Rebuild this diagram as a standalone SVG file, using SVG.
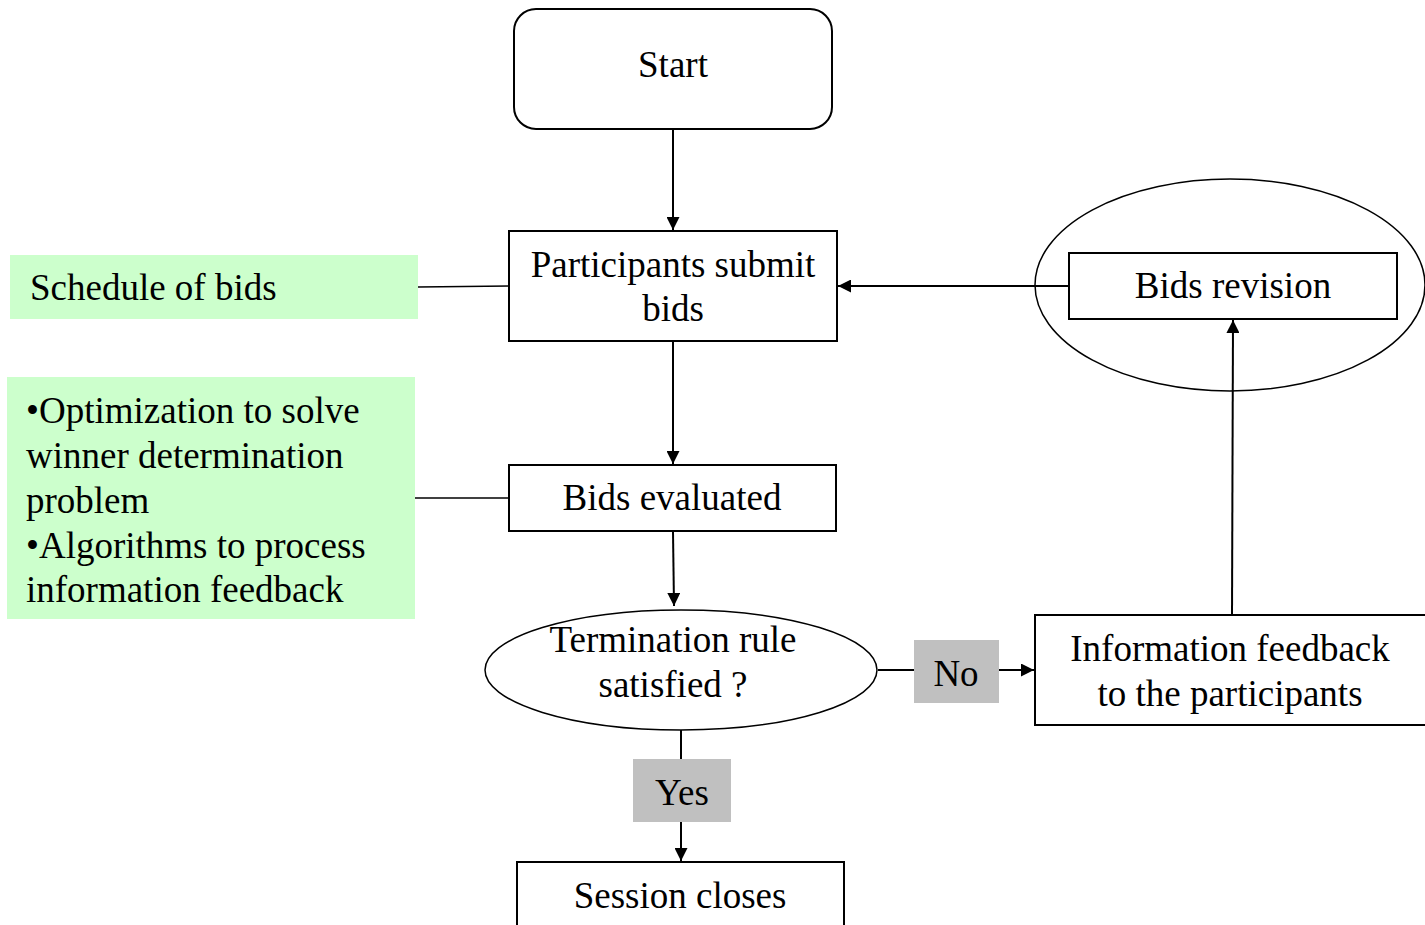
<svg xmlns="http://www.w3.org/2000/svg" width="1425" height="925" viewBox="0 0 1425 925">
<style>
text{font-family:"Liberation Serif","Times New Roman",serif;font-size:37px;fill:#000}
.c{text-anchor:middle}
.box{fill:#fff;stroke:#000;stroke-width:2}
.green{fill:#ccffcc;stroke:none}
.gray{fill:#c0c0c0;stroke:none}
.ln{stroke:#000;stroke-width:2;fill:none}
.thin{stroke:#000;stroke-width:1.5;fill:none}
</style>
<defs>
<marker id="ah" viewBox="0 0 10 10" refX="10" refY="5" markerWidth="7" markerHeight="6.5" markerUnits="strokeWidth" orient="auto">
<path d="M0,0 L10,5 L0,10 z" fill="#000"/>
</marker>
</defs>
<rect width="1425" height="925" fill="#fff"/>
<g id="connectors">
<line class="ln" x1="673" y1="129" x2="673" y2="230" marker-end="url(#ah)"/>
<line class="thin" x1="418" y1="287" x2="509" y2="286"/>
<line class="ln" x1="1069" y1="286" x2="838" y2="286" marker-end="url(#ah)"/>
<line class="ln" x1="673" y1="342" x2="673" y2="464" marker-end="url(#ah)"/>
<line class="thin" x1="415" y1="498" x2="509" y2="498"/>
<line class="ln" x1="673" y1="532" x2="674" y2="606" marker-end="url(#ah)"/>
<line class="ln" x1="878" y1="670" x2="914" y2="670"/>
<line class="ln" x1="999" y1="670" x2="1034" y2="670" marker-end="url(#ah)"/>
<line class="ln" x1="1232" y1="615" x2="1233" y2="320" marker-end="url(#ah)"/>
<line class="ln" x1="681" y1="730" x2="681" y2="760"/>
<line class="ln" x1="681" y1="822" x2="681" y2="861" marker-end="url(#ah)"/>
</g>
<g id="start">
<rect class="box" x="514" y="9" width="318" height="120" rx="22"/>
<text class="c" x="673" y="77">Start</text>
</g>
<g id="schedule">
<rect class="green" x="10" y="255" width="408" height="64"/>
<text x="30" y="300">Schedule of bids</text>
</g>
<g id="submit">
<rect class="box" x="509" y="231" width="328" height="110"/>
<text class="c" x="673" y="277">Participants submit</text>
<text class="c" x="673" y="321">bids</text>
</g>
<g id="revision">
<ellipse class="thin" cx="1230" cy="285" rx="195" ry="106"/>
<rect class="box" x="1069" y="253" width="328" height="66"/>
<text class="c" x="1233" y="298">Bids revision</text>
</g>
<g id="methods">
<rect class="green" x="7" y="377" width="408" height="242"/>
<text x="26" y="423">•Optimization to solve</text>
<text x="26" y="468">winner determination</text>
<text x="26" y="513">problem</text>
<text x="26" y="558">•Algorithms to process</text>
<text x="26" y="602">information feedback</text>
</g>
<g id="evaluated">
<rect class="box" x="509" y="465" width="327" height="66"/>
<text class="c" x="672" y="510">Bids evaluated</text>
</g>
<g id="termination">
<ellipse class="thin" cx="681" cy="670" rx="196" ry="60"/>
<text class="c" x="673" y="652">Termination rule</text>
<text class="c" x="673" y="697">satisfied ?</text>
</g>
<g id="no">
<rect class="gray" x="914" y="640" width="85" height="63"/>
<text class="c" x="956" y="686">No</text>
</g>
<g id="feedback">
<rect class="box" x="1035" y="615" width="400" height="110"/>
<text class="c" x="1230" y="661">Information feedback</text>
<text class="c" x="1230" y="706">to the participants</text>
</g>
<g id="yes">
<rect class="gray" x="633" y="759" width="98" height="63"/>
<text class="c" x="682" y="805">Yes</text>
</g>
<g id="closes">
<rect class="box" x="517" y="862" width="327" height="80"/>
<text class="c" x="680" y="908">Session closes</text>
</g>
</svg>
